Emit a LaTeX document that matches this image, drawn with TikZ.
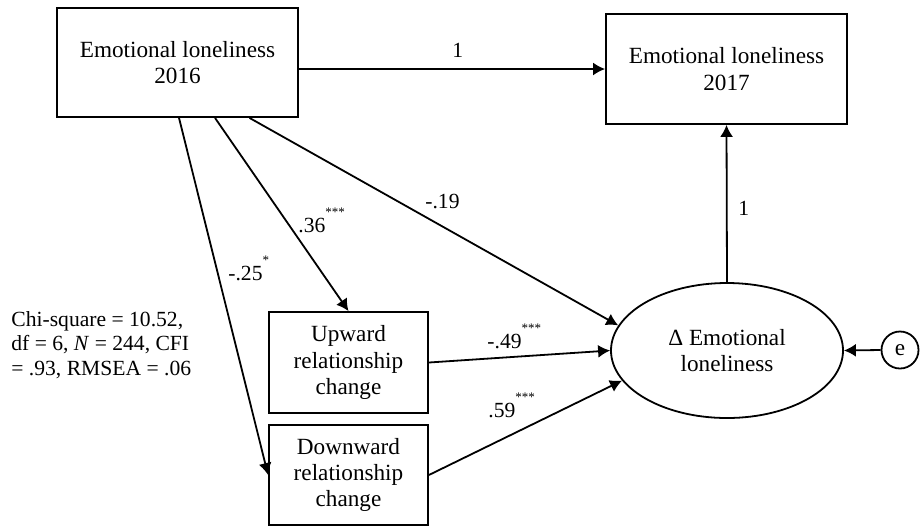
\documentclass[tikz,border=0pt]{standalone}
\usepackage{fontspec}
\setmainfont{Liberation Serif}
\usetikzlibrary{arrows.meta,shapes.geometric}
\newcommand\pstar[1]{\raisebox{8pt}{\fontsize{6.5}{7}\selectfont#1}}
\begin{document}
\begin{tikzpicture}[x=0.5pt,y=-0.5pt,
  var/.style={draw,line width=0.9pt,align=center,inner sep=0pt,font=\fontsize{11.6}{13.2}\selectfont},
  arr/.style={line width=0.9pt,-{Latex[length=6pt,width=6.5pt]}},
  coef/.style={inner sep=0pt,anchor=base west,font=\fontsize{10.8}{12.2}\selectfont}]
\useasboundingbox (0,0) rectangle (920,526);
\node[var,minimum width=120.5pt,minimum height=54.5pt] (el16) at (177.5,62.5) {Emotional loneliness\\2016};
\node[var,minimum width=120.5pt,minimum height=55pt] (el17) at (726.5,69) {Emotional loneliness\\2017};
\node[var,minimum width=79.5pt,minimum height=50.5pt] (up) at (348.5,362.5) {Upward\\relationship\\change};
\node[var,minimum width=79.5pt,minimum height=50pt] (down) at (348.5,475) {Downward\\relationship\\change};
\node[var,ellipse,minimum width=116pt,minimum height=67.5pt] (dl) at (727,350.5) {Δ Emotional\\loneliness};
\node[var,circle,minimum size=18.5pt] (e) at (900,350) {e};
\draw[arr] (el16.east |- el17.west) -- (el17.west);
\draw[arr] (dl.north) -- (el17.south);
\draw[arr] (e.west) -- (dl.east);
\draw[arr] ([xshift=0.75pt]el16.south) -- (down.west);
\draw[arr] ([xshift=18.75pt]el16.south) -- (up.north);
\draw[arr] ([xshift=36pt]el16.south) -- (dl.167);
\draw[arr] (up.east) -- (dl.west);
\draw[arr] (down.east) -- (dl.196);
\node[coef] (w1) at (452,57) {1};
\node[coef] (w2) at (738,215) {1};
\node[coef] (w3) at (425,208) {-.19};
\node[coef] (w4) at (298,232) {.36\pstar{***}};
\node[coef] (w5) at (228,280) {-.25\pstar{*}};
\node[coef] (w6) at (487,348) {-.49\pstar{***}};
\node[coef] (w7) at (488,417) {.59\pstar{***}};
\node[coef,anchor=north west,align=left] (fit) at (11,311) {Chi-square = 10.52,\\df = 6, \textit{N} = 244, CFI\\= .93, RMSEA = .06};
\end{tikzpicture}
\end{document}
